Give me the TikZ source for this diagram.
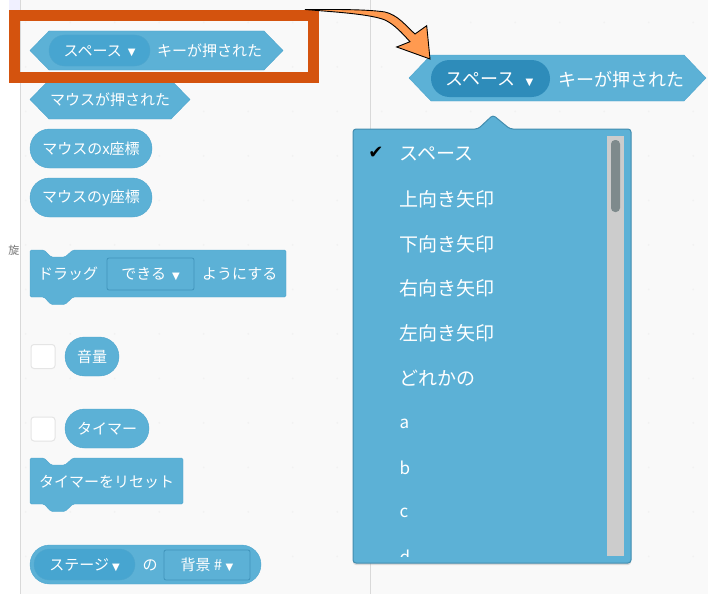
\documentclass[tikz,border=0pt]{standalone}
\usepackage{fontspec}
\setmainfont{Noto Sans CJK JP}
\newfontfamily\symfont{DejaVu Sans}
\usetikzlibrary{shapes.misc,shadows}

\definecolor{blockblue}{HTML}{5CB1D6}
\definecolor{blockedge}{HTML}{4FA6CE}
\definecolor{pilldark}{HTML}{47A5D0}
\definecolor{pillactive}{HTML}{2E8CBA}
\definecolor{framered}{HTML}{D4530E}
\definecolor{arroworange}{HTML}{FF9A50}
\definecolor{panelgray}{HTML}{F9F9F9}
\definecolor{linegray}{HTML}{D9D9D9}
\definecolor{thumbgray}{HTML}{7E8A8C}

\tikzset{
  label/.style={text=white, inner sep=0pt, font=\fontsize{15}{15}\selectfont},
  bigl/.style={label, font=\fontsize{18}{18}\selectfont},
  menuitem/.style={label, anchor=west, font=\fontsize{19}{19}\selectfont},
  letteritem/.style={menuitem, font=\fontsize{17}{17}\selectfont},
  hatfill/.style={fill=blockblue, draw=blockedge, line width=.4pt, line join=round},
  pill/.style={rounded rectangle, fill=blockblue, draw=blockedge, inner sep=0pt, outer sep=0pt},
  darkpill/.style={pill, fill=pilldark, draw=blockedge},
  dropbox/.style={rectangle, rounded corners=2pt, fill=blockblue, draw=pilldark!90!black, line width=.8pt, inner sep=0pt},
  checkbox/.style={rectangle, rounded corners=3pt, fill=white, draw=black!10, line width=1pt,
    minimum width=24pt, minimum height=24pt, inner sep=0pt}
}
% hat block: left, top, right, bottom, chamfer
\newcommand{\hatblock}[5]{
  \path[hatfill] (#1,#2/2+#4/2) -- (#1+#5,#2) -- (#3-#5,#2) -- (#3,#2/2+#4/2) -- (#3-#5,#4) -- (#1+#5,#4) -- cycle;
}
% stack block with its notch: x, y, right x, bottom y
\newcommand{\stackblock}[4]{
  \fill[blockblue, draw=blockedge, line width=.4pt, rounded corners=1.5pt]
    (#1,#2) -- (#1+14,#2) -- (#1+21,#2+7) -- (#1+35,#2+7) -- (#1+43,#2) -- (#3,#2) -- (#3,#4)
    -- (#1+43,#4) -- (#1+35,#4+7.5) -- (#1+21,#4+7.5) -- (#1+14,#4) -- (#1,#4) -- cycle;
}
\newcommand{\arrowdown}{{\symfont\fontsize{10}{10}\selectfont\raisebox{.5pt}{\char"25BC}}}

\begin{document}
\begin{tikzpicture}[x=1pt, y=-1pt]
  \useasboundingbox (0,0) rectangle (708,594);
  % background
  \fill[white] (0,0) rectangle (708,594);
  \fill[panelgray] (20,0) rectangle (708,594);
  \fill[blue!6] (9,0) rectangle (20,10);
  \foreach \dx in {-8,...,7}
    \foreach \dy in {0,...,12}
      \fill[black!5] (381.7+\dx*44.5,22.3+\dy*44.5) circle (1pt);
  \draw[linegray, line width=.8pt] (20,0) -- (20,594);
  \draw[linegray, line width=.8pt] (370,0) -- (370,594);
  \node[text=black!55, inner sep=0pt, font=\fontsize{11}{11}\selectfont] (sidelabel) at (14,250) {旋};

  % palette
  \hatblock{30}{31}{283}{70}{19}
  \node[darkpill, minimum width=101pt, minimum height=31pt] (keypill) at (99.5,50.5) {};
  \node[label] (keytext) at (99.5,51) {スペース\hspace{6pt}\arrowdown};
  \node[label, anchor=west] (keylabel) at (157,51) {キーが押された};

  \hatblock{30}{80}{190}{119}{19}
  \node[label] (mousetext) at (110,100) {マウスが押された};

  \node[pill, minimum width=122pt, minimum height=39pt] (mousex) at (91,148.5) {};
  \node[label] (mousextext) at (91,149) {マウスのx座標};
  \node[pill, minimum width=122pt, minimum height=39pt] (mousey) at (91,197.5) {};
  \node[label] (mouseytext) at (91,198) {マウスのy座標};

  \stackblock{30}{250}{286}{297}
  \node[label, anchor=west] (dragtext) at (38,274) {ドラッグ};
  \node[dropbox, minimum width=87pt, minimum height=32pt] (dragbox) at (150.5,274) {};
  \node[label] (dragboxtext) at (150.5,274) {できる\hspace{6pt}\arrowdown};
  \node[label, anchor=west] (dragend) at (202,274) {ようにする};

  \node[checkbox] (volumecheck) at (43,356.5) {};
  \node[pill, minimum width=54pt, minimum height=39pt] (volume) at (92,356.5) {};
  \node[label] (volumetext) at (92,357) {音量};

  \node[checkbox] (timercheck) at (43,429) {};
  \node[pill, minimum width=84pt, minimum height=39pt] (timer) at (107,428.5) {};
  \node[label] (timertext) at (107,429) {タイマー};

  \stackblock{30}{458}{183}{504}
  \node[label] (resettext) at (106.5,482) {タイマーをリセット};

  \node[pill, minimum width=231pt, minimum height=39pt] (stage) at (145.5,564.5) {};
  \node[darkpill, minimum width=101pt, minimum height=31pt] (stagepill) at (84.5,564.5) {};
  \node[label] (stagetext) at (84.5,565) {ステージ\hspace{3pt}\arrowdown};
  \node[label] (oftext) at (150,565) {の};
  \node[dropbox, minimum width=86pt, minimum height=30pt] (bgbox) at (207,565) {};
  \node[label] (bgtext) at (207,565) {背景 \# \arrowdown};

  % dropdown menu
  \fill[blockblue, draw=blockedge!85!black, line width=1pt, rounded corners=3pt,
    drop shadow={shadow xshift=0pt, shadow yshift=-2pt, opacity=.25}]
    (353,129) -- (478,129) -- (493,115) -- (510,129) -- (631,129) -- (631,563) -- (353,563) -- cycle;
  \fill[black!20] (607.3,136) rectangle (624,556);
  \fill[thumbgray, rounded corners=4pt] (611,140) rectangle (620,212);
  \node[inner sep=0pt, font=\symfont\fontsize{18}{18}\selectfont] (checkmark) at (376,153) {✔};
  \node[menuitem] (itemspace) at (399.5,154) {スペース};
  \node[menuitem] (itemup) at (399.5,199) {上向き矢印};
  \node[menuitem] (itemdown) at (399.5,244) {下向き矢印};
  \node[menuitem] (itemright) at (399.5,288) {右向き矢印};
  \node[menuitem] (itemleft) at (399.5,333) {左向き矢印};
  \node[menuitem] (itemany) at (399.5,378) {どれかの};
  \node[letteritem] (itema) at (399.5,424) {a};
  \node[letteritem] (itemb) at (399.5,468) {b};
  \node[letteritem] (itemc) at (399.5,513) {c};
  \begin{scope}
    \clip (395,540) rectangle (420,556);
    \node[letteritem] (itemd) at (399.5,557) {d};
  \end{scope}

  % selected block on the right
  \hatblock{409}{55}{706}{101}{22}
  \node[pill, fill=pillactive, draw=none, minimum width=119pt, minimum height=37pt] (bigpill) at (490.5,78.5) {};
  \node[bigl] (bigtext) at (489.5,79.5) {スペース\hspace{10pt}\arrowdown};
  \node[bigl, anchor=west] (biglabel) at (558,79.5) {キーが押された};

  % red frame and arrow
  \draw[framered, line width=11pt] (14,15.5) rectangle (313.5,77);
  \coordinate (arrowtail) at (305,9.5);
  \coordinate (arrowtip) at (430,59);
  \draw[black, line width=.9pt, fill=arroworange, line join=miter]
    (arrowtail) .. controls (330,9.5) and (365,9) .. (385,12)
    .. controls (398,15) and (406,26) .. (415,34)
    -- (426.7,25.7) -- (arrowtip) -- (396.7,47) -- (410,41.7)
    .. controls (402,33) and (395,25) .. (385,20)
    .. controls (370,14) and (335,12) .. (arrowtail) -- cycle;
\end{tikzpicture}
\end{document}
